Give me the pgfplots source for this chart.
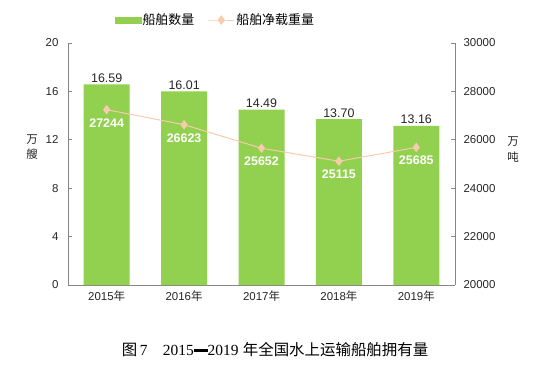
\documentclass[border=0pt]{standalone}
\usepackage{pgfplots}
\pgfplotsset{compat=1.18}
\usepackage{fontspec}
\setmainfont{Liberation Sans}
\newfontfamily\cjk{Noto Sans CJK SC}
\newfontfamily\serifnum{Liberation Serif}
\definecolor{barg}{HTML}{92D050}
\definecolor{lineo}{HTML}{F8CBAD}
\definecolor{axgray}{HTML}{868686}
\definecolor{txt}{HTML}{262626}
\pgfplotsset{
  mylegend/.style={legend image code/.code={\draw[##1, mark repeat=2, mark phase=2] plot coordinates {(0bp,0bp) (13bp,0bp) (26bp,0bp)};}},
  barlegend/.style={legend image code/.code={\fill[barg] (0bp,-2.8bp) rectangle (26bp,2.8bp);}},
}
\begin{document}
\begin{tikzpicture}
\pgfplotsset{
  common/.style={
    width=387bp, height=242bp, scale only axis,
    xmin=-0.5, xmax=4.5,
    /pgf/number format/assume math mode=true,
    tick label style={font=\fontsize{11.5}{12}\selectfont, text=txt},
    tick align=inside, major tick length=4bp,
    axis line style={axgray, line width=0.8bp},
    tick style={axgray, line width=0.8bp},
    scaled ticks=false,
  }
}
\begin{axis}[common, clip=false,
  axis y line*=left, axis x line*=bottom,
  ymin=0, ymax=20, ytick={0,4,...,20},
  yticklabel style={xshift=-6bp},
  xtick={0,...,4},
  xticklabels={{2015\cjk 年},{2016\cjk 年},{2017\cjk 年},{2018\cjk 年},{2019\cjk 年}},
  x tick style={draw=none},
  xticklabel style={yshift=-2bp},
  ]
  \addplot[ybar, bar width=46bp, fill=barg, draw=none,
    point meta=explicit symbolic,
    nodes near coords,
    nodes near coords style={anchor=south, inner sep=1.5bp, font=\fontsize{12.5}{13}\selectfont, text=txt}]
    coordinates {(0,16.59) [16.59] (1,16.01) [16.01] (2,14.49) [14.49] (3,13.70) [13.70] (4,13.16) [13.16]};
  \coordinate (bl) at (rel axis cs:0,0);
  \node[font=\cjk\fontsize{11.5}{16}\selectfont, align=center, text=txt] at (rel axis cs:-0.093,0.57) {万\\艘};
  \node[font=\cjk\fontsize{11.5}{16}\selectfont, align=center, text=txt] at (rel axis cs:1.15,0.56) {万\\吨};
\end{axis}
\begin{axis}[common,
  axis y line*=right, axis x line=none,
  ymin=20000, ymax=30000, ytick={20000,22000,...,30000},
  yticklabel style={/pgf/number format/1000 sep={}, xshift=5bp},
  legend style={at={(0.38,1.095)}, anchor=center, draw=none, fill=none,
    legend columns=2, font=\cjk\fontsize{13}{14}\selectfont, text=black,
    /tikz/every even column/.append style={column sep=12bp},
    nodes={inner sep=1.5bp}},
  legend cell align=left,
  ]
  \addlegendimage{barlegend}
  \addlegendentry{船舶数量}
  \addplot[lineo, line width=1bp, mark=diamond*, mark size=4bp,
    mark options={fill=lineo, draw=lineo},
    mylegend,
    point meta=explicit symbolic,
    nodes near coords,
    nodes near coords style={anchor=north, yshift=-5bp, font=\bfseries\fontsize{12.5}{13}\selectfont, text=white}]
    coordinates {(0,27244) [27244] (1,26623) [26623] (2,25652) [25652] (3,25115) [25115] (4,25685) [25685]};
  \addlegendentry{船舶净载重量}
\end{axis}
\node[font=\fontsize{15.5}{16}\selectfont, text=black] at ([shift={(207bp,-65bp)}]bl) {{\cjk 图}\,{\serifnum 7}\quad{\serifnum 2015\rule[0.27em]{0.9em}{0.15em}2019} {\cjk 年全国水上运输船舶拥有量}};
\pgfresetboundingbox
\path[use as bounding box] ([shift={(-68bp,-85bp)}]bl) rectangle ([shift={(472bp,285bp)}]bl);
\end{tikzpicture}
\end{document}
